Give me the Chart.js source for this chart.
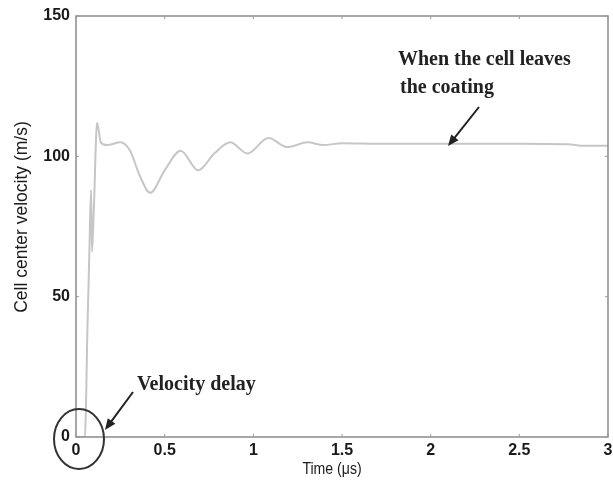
<!DOCTYPE html>
<html><head><meta charset="utf-8">
<script src="https://cdn.jsdelivr.net/npm/chart.js@4/dist/chart.umd.min.js"></script>
<style>html,body{margin:0;padding:0;background:#fff}#wrap{width:613px;height:483px}</style>
</head><body><div id="wrap"><canvas id="c" width="613" height="483"></canvas></div>
<script>
const timeUs = [0, 0.05, 0.065, 0.075, 0.085, 0.09, 0.1, 0.119, 0.14, 0.175, 0.25, 0.305, 0.36, 0.418, 0.5, 0.59, 0.689, 0.78, 0.87, 0.966, 1.085, 1.192, 1.305, 1.395, 1.5, 1.7, 2.0, 2.5, 2.78, 2.85, 3.0];
const velocity = [0, 0, 40, 65, 88, 66, 80, 112, 105, 104, 105, 102, 93, 87, 95, 102, 95, 101, 105, 101, 106.5, 103.3, 105, 104, 104.7, 104.5, 104.5, 104.5, 104.3, 103.8, 103.8];
const xTicks = [0, 0.5, 1, 1.5, 2, 2.5, 3];
const yTicks = [0, 50, 100, 150];
const xTitle = 'Time (\u03bcs)';
const yTitle = 'Cell center velocity (m/s)';
const noteLeave = ['When the cell leaves', 'the coating'];
const noteDelay = 'Velocity delay';

const points = timeUs.map((t, i) => ({x: t, y: velocity[i]}));

function arrow(ctx, x1, y1, x2, y2) {
  const a = Math.atan2(y2 - y1, x2 - x1);
  const L = 12, W = 0.4;
  ctx.beginPath(); ctx.moveTo(x1, y1); ctx.lineTo(x2 - Math.cos(a) * 6, y2 - Math.sin(a) * 6); ctx.stroke();
  ctx.beginPath();
  ctx.moveTo(x2, y2);
  ctx.lineTo(x2 - L * Math.cos(a - W), y2 - L * Math.sin(a - W));
  ctx.lineTo(x2 - L * Math.cos(a + W), y2 - L * Math.sin(a + W));
  ctx.closePath(); ctx.fill();
}

const decor = {
  id: 'decor',
  afterDraw(chart) {
    const ctx = chart.ctx, xs = chart.scales.x, ys = chart.scales.y;
    const {left, right, top, bottom} = chart.chartArea;
    ctx.save();
    ctx.strokeStyle = '#8a8a8a'; ctx.lineWidth = 1.5;
    ctx.strokeRect(left, top, right - left, bottom - top);
    ctx.lineWidth = 1; ctx.strokeStyle = '#999';
    xTicks.forEach(v => {
      const px = xs.getPixelForValue(v);
      ctx.beginPath(); ctx.moveTo(px, bottom); ctx.lineTo(px, bottom - 3); ctx.stroke();
      ctx.beginPath(); ctx.moveTo(px, top); ctx.lineTo(px, top + 3); ctx.stroke();
    });
    yTicks.forEach(v => {
      const py = ys.getPixelForValue(v);
      ctx.beginPath(); ctx.moveTo(left, py); ctx.lineTo(left + 3, py); ctx.stroke();
      ctx.beginPath(); ctx.moveTo(right, py); ctx.lineTo(right - 3, py); ctx.stroke();
    });
    // axis titles
    ctx.fillStyle = '#1a1a1a';
    ctx.textAlign = 'center'; ctx.textBaseline = 'middle';
    ctx.font = '16px "Liberation Sans", Arial, sans-serif';
    ctx.save(); ctx.translate(332, 470); ctx.scale(0.88, 1);
    ctx.fillText(xTitle, 0, 0); ctx.restore();
    ctx.font = '17.5px "Liberation Sans", Arial, sans-serif';
    ctx.save(); ctx.translate(22, 217); ctx.rotate(-Math.PI / 2);
    ctx.fillText(yTitle, 0, 0); ctx.restore();
    // annotations
    ctx.font = 'bold 20px "Liberation Serif", "DejaVu Serif", serif';
    ctx.textAlign = 'left'; ctx.textBaseline = 'alphabetic';
    ctx.fillStyle = '#222';
    ctx.fillText(noteLeave[0], 398, 65);
    ctx.fillText(noteLeave[1], 400, 93);
    ctx.fillText(noteDelay, 137, 390);
    ctx.strokeStyle = '#222'; ctx.lineWidth = 2;
    arrow(ctx, 479, 107, 448, 146);
    arrow(ctx, 133, 392, 105, 430);
    ctx.strokeStyle = '#333'; ctx.lineWidth = 2;
    ctx.beginPath(); ctx.ellipse(79, 439, 25, 30, 0, 0, Math.PI * 2); ctx.stroke();
    ctx.restore();
  }
};

const tickFont = { family: '"Liberation Sans", Arial, sans-serif', size: 16, weight: 'bold' };

new Chart(document.getElementById('c'), {
  type: 'line',
  data: { datasets: [{
    data: points,
    borderColor: '#c6c6c6', borderWidth: 2, pointRadius: 0,
    cubicInterpolationMode: 'monotone', fill: false
  }]},
  options: {
    responsive: false, animation: false, devicePixelRatio: 1,
    layout: { padding: { top: 16, right: 5, left: 0, bottom: 0 } },
    plugins: { legend: { display: false }, tooltip: { enabled: false } },
    scales: {
      x: {
        type: 'linear', min: 0, max: 3,
        afterFit: s => { s.height = 46; s.paddingLeft = 0; s.paddingRight = 0; },
        afterBuildTicks: s => { s.ticks = xTicks.map(v => ({value: v})); },
        grid: { display: false, drawTicks: false }, border: { display: false },
        ticks: { padding: 4, color: '#1a1a1a', font: tickFont, callback: v => String(v) }
      },
      y: {
        type: 'linear', min: 0, max: 150,
        afterFit: s => { s.width = 76; s.paddingTop = 0; s.paddingBottom = 0; },
        afterBuildTicks: s => { s.ticks = yTicks.map(v => ({value: v})); },
        grid: { display: false, drawTicks: false }, border: { display: false },
        ticks: { padding: 6, color: '#1a1a1a', font: tickFont, callback: v => String(v) }
      }
    }
  },
  plugins: [decor]
});
</script></body></html>
